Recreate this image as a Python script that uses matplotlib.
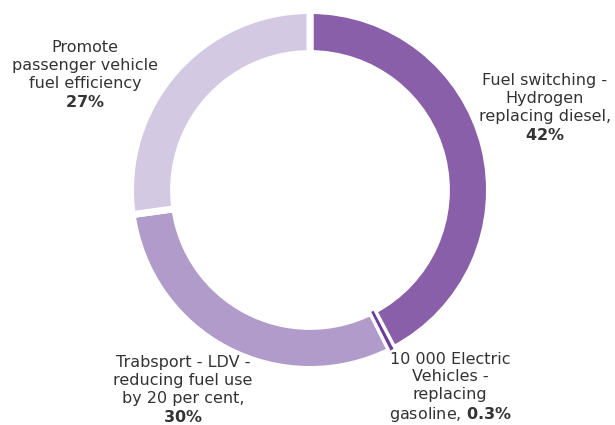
import matplotlib.pyplot as plt

# slice data (clockwise from the top)
labels = ["Fuel switching -\nHydrogen\nreplacing diesel,",
          "10 000 Electric\nVehicles -\nreplacing\ngasoline,",
          "Trabsport - LDV -\nreducing fuel use\nby 20 per cent,",
          "Promote\npassenger vehicle\nfuel efficiency"]
values = [42, 0.3, 30, 27]
pct_labels = ["42%", "0.3%", "30%", "27%"]
colors = ["#8a5fa9", "#6a3d9a", "#b09bca", "#d3c9e2"]

# label centres in pixels (x, y from top)
label_pos = [(545, 108), (450, 388), (183, 390), (85, 75)]

plt.rcParams['mathtext.fontset'] = 'dejavusans'

W, H = 615, 425
cx, cy, R = 310, 190, 179.5
fig = plt.figure(figsize=(W / 100, H / 100), dpi=100)
ax = fig.add_axes([0, 0, 1, 1])

wedges, _ = ax.pie(values, colors=colors, startangle=90, counterclock=False,
                   radius=1.0,
                   wedgeprops=dict(width=0.24, edgecolor='white', linewidth=5))

# the tiny slice sits on top as a thin line with gaps around it
wedges[1].set_linewidth(0)
wedges[1].set_zorder(5)

ax.set_xlim(-cx / R, (W - cx) / R)
ax.set_ylim(-(H - cy) / R, cy / R)
ax.set_aspect('equal')
ax.axis('off')

txt = "#333333"
for lab, pct, (px, py), i in zip(labels, pct_labels, label_pos, range(4)):
    x = (px - cx) / R
    y = (cy - py) / R
    pct_tex = r"$\mathbf{" + pct.replace('%', r'\%') + "}$"
    if i == 1:
        lines = lab.split('\n')
        s = '\n'.join(lines[:-1]) + '\n' + lines[-1] + ' ' + pct_tex
    else:
        s = lab + '\n' + pct_tex
    ax.text(x, y, s, ha='center', va='center', multialignment='center',
            fontsize=11.5, color=txt, linespacing=1.22)

fig.savefig('out.png', dpi=100)
